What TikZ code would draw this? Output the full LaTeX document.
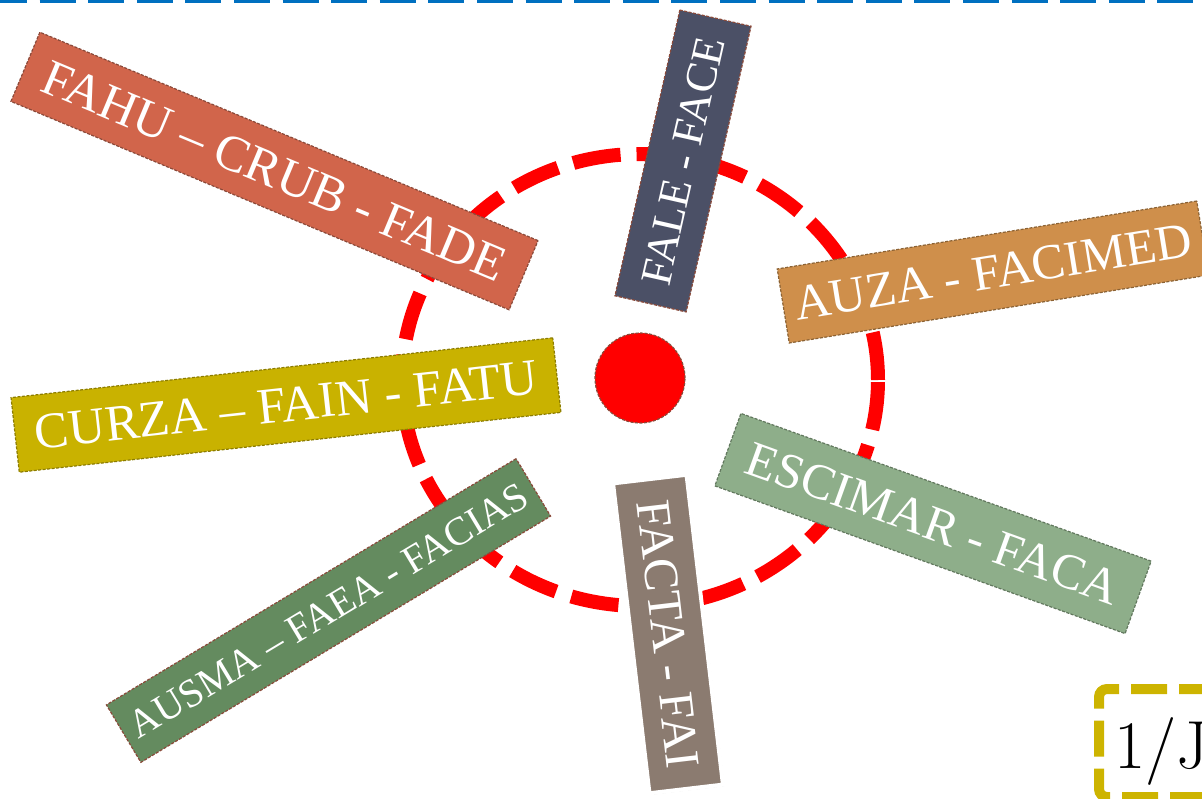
\documentclass[tikz,border=0pt]{standalone}
\usepackage{fontspec}
\setmainfont{Liberation Serif}
\newfontfamily\numfont{Latin Modern Roman}
\usetikzlibrary{shadows}
\definecolor{fahucol}{HTML}{D1654B}
\definecolor{falecol}{HTML}{4B5066}
\definecolor{auzacol}{HTML}{CF8F4B}
\definecolor{curzacol}{HTML}{C9B200}
\definecolor{ausmacol}{HTML}{648B5F}
\definecolor{factacol}{HTML}{8B7B70}
\definecolor{escicol}{HTML}{8EAE8A}
\definecolor{brownline}{HTML}{8B4A3A}
\definecolor{oliveline}{HTML}{8C7C00}
\definecolor{greyline}{HTML}{62785E}
\definecolor{auzaline}{HTML}{8B6234}
\definecolor{topblue}{HTML}{0070C0}
\definecolor{datecol}{HTML}{CDB400}
\begin{document}
\begin{tikzpicture}[x=1pt,y=-1pt,
	facbox/.style={draw=#1,line width=1.2pt,dash pattern=on 3pt off 1.5pt,
		text=white,inner sep=0pt,minimum height=75pt},
	facbox/.default=brownline,
	big/.style={font=\fontsize{50}{56}\selectfont}]
	\useasboundingbox (0,0) rectangle (1202,798);
	\clip (0,0) rectangle (1202,798);
	% top rule
	\draw[topblue,line width=2.6pt,dash pattern=on 36pt off 12.6pt,dash phase=9pt] (0,1.2) -- (1202,1.2);
	% ring
	\draw[red,line width=14pt,dash pattern=on 48pt off 16pt] (640,380) ellipse [x radius=238pt,y radius=226pt];
	% faculties
	\node[facbox,fill=fahucol,minimum width=540pt,rotate=-22.7,font=\fontsize{51}{57}\selectfont] (fahu) at (274.5,171) {FAHU – CRUB - FADE};
	\node[facbox,fill=falecol,minimum width=293pt,minimum height=73pt,rotate=77.2,font=\fontsize{44}{50}\selectfont] (fale) at (683,161) {FALE - FACE};
	\node[facbox=auzaline,fill=auzacol,minimum width=425pt,rotate=9.2,big] (auza) at (993,272) {AUZA - FACIMED};
	\node[facbox=oliveline,fill=curzacol,minimum width=545pt,rotate=6.3,font=\fontsize{51}{57}\selectfont] (curza) at (286,405) {CURZA – FAIN - FATU};
	\node[facbox,fill=ausmacol,minimum width=478pt,minimum height=67pt,rotate=31,font=\fontsize{40}{46}\selectfont] (ausma) at (328.5,610.5) {AUSMA – FAEA - FACIAS};
	\node[facbox=greyline,fill=escicol,minimum width=436pt,minimum height=77pt,rotate=-19.8,big] (escimar) at (933,523.5) {ESCIMAR - FACA};
	\node[facbox=white,solid,line width=4pt,fill=factacol,minimum width=312pt,minimum height=74pt,rotate=-83.3,
		drop shadow={opacity=0.3,shadow xshift=1.5pt,shadow yshift=-1.5pt},font=\fontsize{49}{55}\selectfont] (facta) at (668,634) {FACTA - FAI};
	% hub
	\node[circle,fill=red,draw=brownline,line width=1.2pt,dash pattern=on 3pt off 1.5pt,minimum size=90pt] (hub) at (640,378) {};
	% date
	\node[draw=datecol,line width=10pt,dash pattern=on 36pt off 12pt,rounded corners=8pt,anchor=north west,
		minimum width=220pt,minimum height=108pt] (datebox) at (1094,684) {};
	\node[anchor=base west,font=\numfont\fontsize{68}{76}\selectfont,inner sep=0pt] (date) at (1114,768) {1/J};
\end{tikzpicture}
\end{document}
